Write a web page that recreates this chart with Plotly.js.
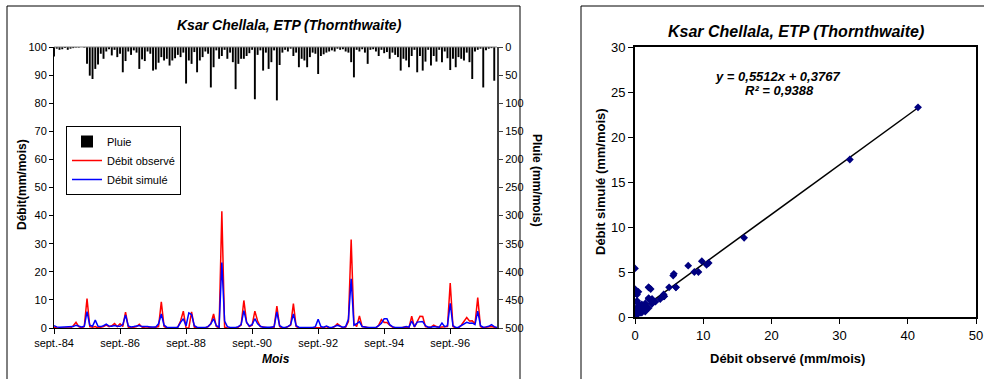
<!DOCTYPE html>
<html>
<head>
<meta charset="utf-8">
<script src="https://cdn.plot.ly/plotly-3.0.1.min.js"></script>
<style>html,body{margin:0;padding:0;background:#fff;}#chart{width:984px;height:379px;}</style>
</head>
<body>
<div id="chart"></div>
<script>
// ---- Data (monthly, sept. 1984 -> févr. 1998) ----
const monthNames = ['janv.','févr.','mars','avr.','mai','juin','juil.','août','sept.','oct.','nov.','déc.'];
const startYear = 1984, startMonth = 8, nMonths = 162;
const months = [];
for (let k = 0; k < nMonths; k++) {
  const m = (startMonth + k) % 12;
  const y = startYear + Math.floor((startMonth + k) / 12);
  months.push(monthNames[m] + '-' + String(y).slice(2));
}
const tickLabels = ['sept.-84','sept.-86','sept.-88','sept.-90','sept.-92','sept.-94','sept.-96'];

const rain = [
  17,3,5,4,2,5,3,2,1,1,
  0,1,30,51,57,39,31,12,21,8,
  4,15,5,18,12,45,25,8,14,6,
  10,39,22,25,8,12,42,40,28,18,
  24,21,33,24,20,14,18,10,65,24,
  30,9,45,24,18,8,12,72,36,6,
  21,16,5,21,10,27,75,30,21,21,
  16,11,5,93,14,6,42,10,39,27,
  6,95,32,10,5,8,3,16,10,36,
  21,24,36,18,10,12,48,16,13,10,
  8,6,8,3,5,4,8,10,27,54,
  5,8,4,10,30,5,4,8,16,5,
  11,9,21,10,14,18,42,21,24,36,
  16,5,45,16,42,26,5,33,16,26,
  5,27,8,20,41,21,36,18,21,24,
  10,27,57,8,5,3,72,6,3,2,
  60,0
];
const observed = [
  0.3,0,0,0,0,0,0,0.8,2,0.5,
  0,0.5,10.5,0.5,0.3,0.5,0,0.3,0.5,1,
  0.5,0.8,1.6,0.5,1.5,0.5,5.6,0.3,0,0.3,
  0.5,1.3,0.3,0,0,0.3,0,0.3,0.5,9.3,
  0.5,0,0,0,0,0.3,2.5,6,0,0,
  5.7,0.3,0,0,0,0,0.5,1.5,5,0.5,
  0,41.5,0.3,0,0,0,0,0.3,1,9.8,
  2,0.5,1,6,2.5,0.5,0.3,0,0,0.3,
  0.3,7.8,0.5,0,0,0.5,1,8.7,0.5,0,
  0,0,0,0,0,0,0,0,0.2,0.5,
  0,0,0.5,1.5,0.8,0,0.3,2.3,31.5,1.5,
  0.5,4.3,0.5,0.3,0,0,0,0,1,3,
  2,2,1,0.3,0,0,0,0.3,0.3,0,
  4.2,0.3,2,4.2,4.1,0.5,0.3,0.3,1,0.5,
  0.3,0.3,0.3,0.5,16,0.5,0,0,1,2.5,
  3.7,2.5,2.6,1.5,10.8,0.5,0,0.3,0.5,0.5,
  0.3,0
];
const simulated = [
  0.8,0.4,0.3,0.3,0.3,0.3,0.3,0.5,1,0.6,
  0.4,0.6,5.8,1,0.6,2.8,0.6,0.5,0.8,1.4,
  0.7,0.6,0.9,0.6,0.6,1.2,4.6,0.7,0.4,0.5,
  0.6,0.9,0.5,0.6,0.5,0.4,0.3,0.4,1.5,5,
  1,0.3,0.2,0.2,0.2,0.3,2,3.3,0.8,5.4,
  4.8,0.8,0.3,0.2,0.2,0.2,0.5,1.5,3.3,0.8,
  0.3,23.3,2.5,0.5,0.2,0.2,0.2,0.5,1.2,6.2,
  2,0.7,1.2,3.3,1.5,0.6,0.3,0.3,0.2,0.3,
  0.5,5.7,0.8,0.3,0.2,0.5,1.2,5,0.8,0.3,
  0.2,0.2,0.2,0.2,0.2,0.5,3.1,0.5,0.3,0.7,
  0.3,0.2,0.5,1,0.6,0.3,0.5,3.1,17.5,1,
  1.5,2.3,0.5,0.3,0.2,0.2,0.2,0.2,0.8,1.7,
  3.3,3.3,1.2,0.5,0.2,0.2,0.2,0.3,0.5,0.3,
  2.5,0.5,2.1,2.3,2.3,0.8,0.3,0.3,0.5,0.4,
  0.3,1.8,0.5,0.8,8.8,0.8,0.2,0.3,0.8,1.5,
  2,1.7,1.8,1.2,6,0.8,0.3,0.4,0.6,1.2,
  0.5,0.2
];
const trendSlope = 0.5512;
const trendIntercept = 0.3767;
const trendR2 = '0,9388';

// ---- Helpers for placement ----
const W = 984, H = 379;
const px = v => v / W;
const py = v => (H - v) / H;
const FONT = 'Liberation Sans, Arial, sans-serif';

const obsMin = Math.min(...observed), obsMax = Math.max(...observed);
const trendX = [obsMin, obsMax];
const trendY = trendX.map(v => trendSlope * v + trendIntercept);

const traces = [
  {type:'bar', name:'Pluie', x:months, y:rain, xaxis:'x', yaxis:'y2',
   marker:{color:'#000000', line:{width:0}}, hoverinfo:'skip'},
  {type:'scatter', mode:'lines', name:'Débit observé', x:months, y:observed, xaxis:'x', yaxis:'y',
   line:{color:'#FF0000', width:1.5}},
  {type:'scatter', mode:'lines', name:'Débit simulé', x:months, y:simulated, xaxis:'x', yaxis:'y',
   line:{color:'#0000FF', width:1.5}},
  {type:'scatter', mode:'lines', x:trendX, y:trendY, xaxis:'x2', yaxis:'y3', showlegend:false,
   line:{color:'#000000', width:1.5}},
  {type:'scatter', mode:'markers', x:observed, y:simulated, xaxis:'x2', yaxis:'y3', showlegend:false,
   marker:{symbol:'diamond', color:'#000080', size:6, line:{width:0}}}
];

const tickFontL = {family:FONT, size:11, color:'#000'};
const tickFontR = {family:FONT, size:13, color:'#000'};

function ann(x, y, text, size, angle) {
  return {xref:'paper', yref:'paper', x:px(x), y:py(y), xanchor:'center', yanchor:'middle',
          showarrow:false, text:text, textangle:angle || 0,
          font:{family:FONT, size:size, color:'#000'}};
}

const layout = {
  width:W, height:H,
  margin:{l:0, r:0, t:0, b:0},
  paper_bgcolor:'#fff', plot_bgcolor:'#fff',
  font:{family:FONT, color:'#000'},
  bargap:0.3,
  showlegend:true,
  legend:{x:px(66), y:py(126), xanchor:'left', yanchor:'top',
          bgcolor:'#fff', bordercolor:'#000', borderwidth:1,
          font:{family:FONT, size:11, color:'#000'}, itemwidth:30,
          tracegroupgap:0, traceorder:'normal'},
  xaxis:{domain:[px(54), px(497)], anchor:'y', type:'category', range:[0, nMonths-1],
         tickmode:'array', tickvals:tickLabels, ticktext:tickLabels,
         ticks:'outside', ticklen:5, tickcolor:'#000', tickfont:tickFontL,
         showgrid:false, zeroline:false, showline:true, linecolor:'#000', linewidth:1},
  yaxis:{domain:[py(328), py(47)], anchor:'x', range:[0,100], dtick:10,
         ticks:'outside', ticklen:4, tickcolor:'#000', tickfont:tickFontL,
         showgrid:false, zeroline:false, showline:true, linecolor:'#000', linewidth:1},
  yaxis2:{overlaying:'y', side:'right', anchor:'x', range:[500,0], dtick:50,
          ticks:'outside', ticklen:4, tickcolor:'#404040', tickfont:tickFontL,
          showgrid:false, zeroline:false, showline:true, linecolor:'#404040', linewidth:2},
  xaxis2:{domain:[px(635), px(976)], anchor:'y3', range:[0,50], dtick:10,
          ticks:'outside', ticklen:5, tickcolor:'#000', tickfont:tickFontR,
          showgrid:false, zeroline:false, showline:true, mirror:true, linecolor:'#000', linewidth:2},
  yaxis3:{domain:[py(317), py(47)], anchor:'x2', range:[0,30], dtick:5,
          ticks:'outside', ticklen:5, tickcolor:'#000', tickfont:tickFontR,
          showgrid:false, zeroline:false, showline:true, mirror:true, linecolor:'#000', linewidth:2},
  shapes:[
    {type:'rect', xref:'paper', yref:'paper', x0:px(7), x1:px(520), y0:-0.02, y1:py(6),
     line:{color:'#000', width:1}, fillcolor:'rgba(0,0,0,0)', layer:'below'},
    {type:'rect', xref:'paper', yref:'paper', x0:px(581), x1:1.02, y0:-0.02, y1:py(6),
     line:{color:'#000', width:1}, fillcolor:'rgba(0,0,0,0)', layer:'below'},
    {type:'line', xref:'paper', yref:'paper', x0:px(54), x1:px(497), y0:py(47), y1:py(47),
     line:{color:'#808080', width:1}}
  ],
  annotations:[
    ann(289, 25, '<b><i>Ksar Chellala, ETP (Thornthwaite)</i></b>', 14),
    ann(796, 32, '<b><i>Ksar Chellala, ETP (Thornthwaite)</i></b>', 16),
    ann(276, 359, '<b><i>Mois</i></b>', 12),
    ann(22, 185, '<b>Débit(mm/mois)</b>', 12, -90),
    ann(537, 180, '<b>Pluie (mm/mois)</b>', 12, 90),
    ann(787, 358, '<b>Débit observé (mm/mois)</b>', 13),
    ann(600, 182, '<b>Débit simulé (mm/mois)</b>', 13, -90),
    ann(777, 76, '<b><i>y = ' + String(trendSlope).replace('.', ',') + 'x + ' + String(trendIntercept).replace('.', ',') + '</i></b>', 13),
    ann(779, 90, '<b><i>R² = ' + trendR2 + '</i></b>', 13)
  ]
};

Plotly.newPlot('chart', traces, layout, {displayModeBar:false, staticPlot:true});
</script>
</body>
</html>
